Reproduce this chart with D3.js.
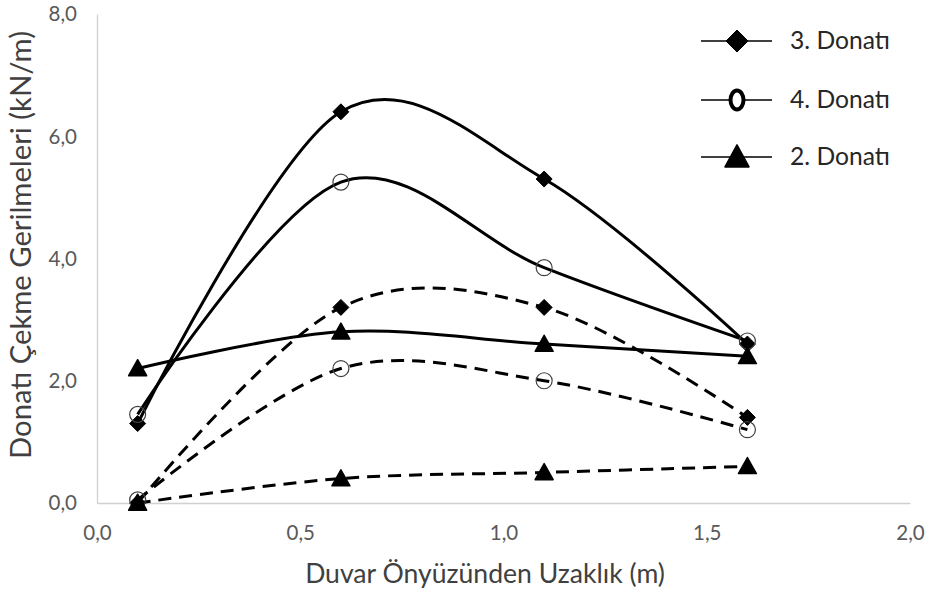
<!DOCTYPE html>
<html><head><meta charset="utf-8">
<script src="https://cdn.jsdelivr.net/npm/d3@7"></script>
<style>body{margin:0;background:#fff;} text{font-family:Lato,"Open Sans",sans-serif;}</style>
</head><body><svg id="c" width="933" height="594"></svg>
<script>
const xValues = [0.1, 0.6, 1.1, 1.6];
const donati3Solid = [1.3, 6.4, 5.3, 2.6];
const donati4Solid = [1.45, 5.25, 3.85, 2.65];
const donati2Solid = [2.2, 2.8, 2.6, 2.4];
const donati3Dashed = [0.0, 3.2, 3.2, 1.4];
const donati4Dashed = [0.05, 2.2, 2.0, 1.2];
const donati2Dashed = [0.0, 0.4, 0.5, 0.6];
const xTicks = [0, 0.5, 1.0, 1.5, 2.0];
const yTicks = [0, 2, 4, 6, 8];
const legendLabels = ["3. Donatı", "4. Donatı", "2. Donatı"];

const svg = d3.select("#c");
const x = d3.scaleLinear().domain([0, 2]).range([97, 910]);
const y = d3.scaleLinear().domain([0, 8]).range([503, 14]);
const fmt = d => d.toFixed(1).replace(".", ",");

function fit(sel, target) {
  const n = sel.node();
  const fs = parseFloat(n.style.fontSize);
  const w = n.getComputedTextLength();
  sel.style("font-size", (fs * target / w) + "px");
}

// axes
const xa = svg.append("g").attr("transform", "translate(0,503)")
  .call(d3.axisBottom(x).tickValues(xTicks).tickFormat(fmt).tickSize(0).tickPadding(22));
const ya = svg.append("g").attr("transform", "translate(97,0)")
  .call(d3.axisLeft(y).tickValues(yTicks).tickFormat(fmt).tickSize(0).tickPadding(20));
[xa, ya].forEach(a => {
  a.select(".domain").attr("stroke", "#d0d0d0").attr("stroke-width", 1.3);
  a.selectAll("text").attr("fill", "#595959").style("font-size", "20.5px").attr("font-family", "Lato");
});
ya.selectAll("text").attr("dy", "0.34em");

const xt = svg.append("text").attr("x", 485).attr("y", 583).attr("text-anchor", "middle")
  .attr("fill", "#404040").style("font-size", "20px").text("Duvar Önyüzünden Uzaklık (m)");
fit(xt, 360);
const yt = svg.append("text").attr("transform", "translate(31,245) rotate(-90)").attr("text-anchor", "middle")
  .attr("fill", "#404040").style("font-size", "20px").text("Donatı Çekme Gerilmeleri (kN/m)");
fit(yt, 428);

const line = d3.line().x((d, i) => x(xValues[i])).y(d => y(d)).curve(d3.curveCardinal.tension(0));

const series = [
  {v: donati3Solid, m: "diamond", dash: null},
  {v: donati4Solid, m: "circle", dash: null},
  {v: donati2Solid, m: "triangle", dash: null},
  {v: donati3Dashed, m: "diamond", dash: "13,8"},
  {v: donati4Dashed, m: "circle", dash: "13,8"},
  {v: donati2Dashed, m: "triangle", dash: "13,8"}
];

function marker(g, type, cx, cy, legend) {
  if (type === "diamond") {
    const s = legend ? 11 : 8;
    g.append("path").attr("d", `M${cx},${cy - s}L${cx + s},${cy}L${cx},${cy + s}L${cx - s},${cy}Z`)
      .attr("fill", "#000").attr("stroke", "#000").attr("stroke-width", 1).attr("stroke-linejoin", "round");
  } else if (type === "circle") {
    if (legend) {
      g.append("ellipse").attr("cx", cx).attr("cy", cy).attr("rx", 6.5).attr("ry", 9.5)
        .attr("fill", "#fff").attr("stroke", "#000").attr("stroke-width", 4);
    } else {
      g.append("circle").attr("cx", cx).attr("cy", cy).attr("r", 8)
        .attr("fill", "none").attr("stroke", "#404040").attr("stroke-width", 1.2);
    }
  } else {
    const w = legend ? 12 : 9, h = legend ? 22 : 16;
    g.append("path").attr("d", `M${cx},${cy - h * 0.55}L${cx + w},${cy + h * 0.45}L${cx - w},${cy + h * 0.45}Z`)
      .attr("fill", "#000").attr("stroke", "#000").attr("stroke-width", 1.5).attr("stroke-linejoin", "round");
  }
}

series.forEach(s => {
  svg.append("path").datum(s.v).attr("d", line).attr("fill", "none")
    .attr("stroke", "#000").attr("stroke-width", 3)
    .attr("stroke-dasharray", s.dash);
});
series.forEach(s => {
  const g = svg.append("g");
  s.v.forEach((v, i) => marker(g, s.m, x(xValues[i]), y(v), false));
});

// legend
const legTypes = ["diamond", "circle", "triangle"];
const legY = [41, 100, 157];
legendLabels.forEach((l, i) => {
  const g = svg.append("g");
  g.append("line").attr("x1", 701).attr("x2", 772).attr("y1", legY[i]).attr("y2", legY[i])
    .attr("stroke", "#000").attr("stroke-width", 1.5);
  marker(g, legTypes[i], 737, legY[i], true);
  const t = g.append("text").attr("x", 790).attr("y", legY[i] + 8).attr("fill", "#262626")
    .style("font-size", "21px").text(l);
  fit(t, 100);
});
</script></body></html>
